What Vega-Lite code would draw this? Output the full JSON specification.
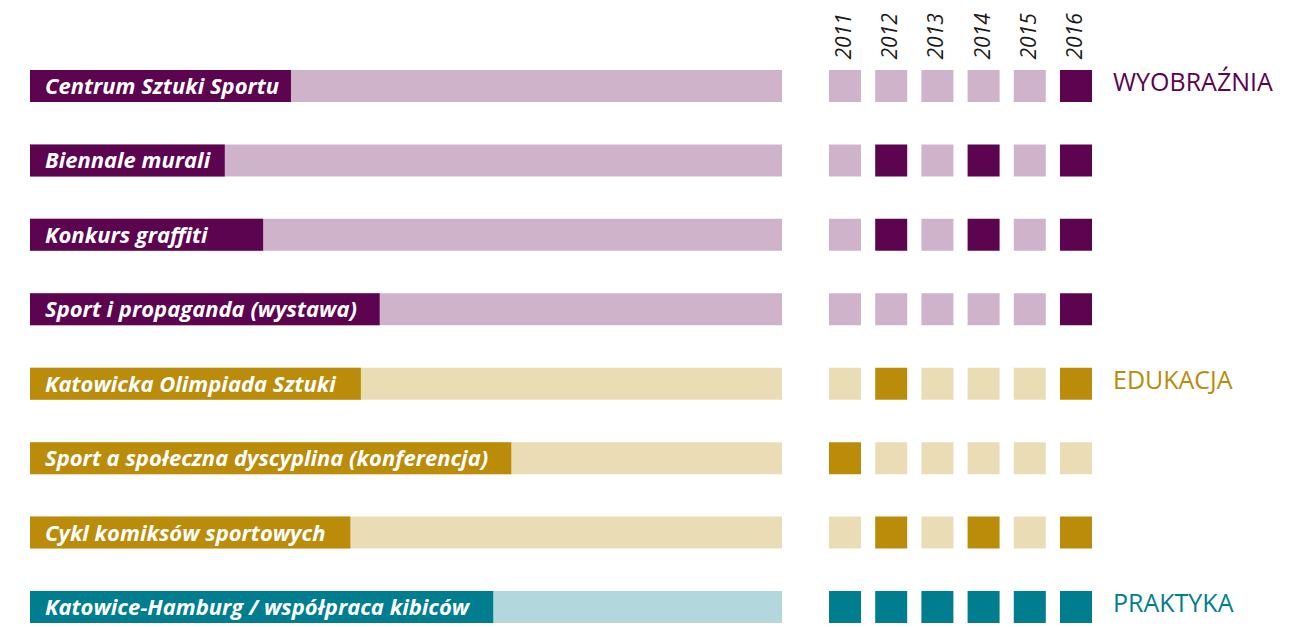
{
  "$schema": "https://vega.github.io/schema/vega-lite/v6.json",
  "background": "white",
  "padding": {"left": 30, "top": 12, "right": 5, "bottom": 0},
  "autosize": {"type": "pad"},
  "config": {"view": {"stroke": null}},
  "datasets": {
    "rows": [
      {"name": "Centrum Sztuki Sportu", "group": "WYOBRAŹNIA", "value": 34.7, "category": "WYOBRAŹNIA"},
      {"name": "Biennale murali", "group": "WYOBRAŹNIA", "value": 25.9, "category": ""},
      {"name": "Konkurs graffiti", "group": "WYOBRAŹNIA", "value": 31.0, "category": ""},
      {"name": "Sport i propaganda (wystawa)", "group": "WYOBRAŹNIA", "value": 46.5, "category": ""},
      {"name": "Katowicka Olimpiada Sztuki", "group": "EDUKACJA", "value": 44.0, "category": "EDUKACJA"},
      {"name": "Sport a społeczna dyscyplina (konferencja)", "group": "EDUKACJA", "value": 64.0, "category": ""},
      {"name": "Cykl komiksów sportowych", "group": "EDUKACJA", "value": 42.6, "category": ""},
      {"name": "Katowice-Hamburg / współpraca kibiców", "group": "PRAKTYKA", "value": 61.6, "category": "PRAKTYKA"}
    ],
    "cells": [
      {"name": "Centrum Sztuki Sportu", "group": "WYOBRAŹNIA", "year": "2011", "active": 0},
      {"name": "Centrum Sztuki Sportu", "group": "WYOBRAŹNIA", "year": "2012", "active": 0},
      {"name": "Centrum Sztuki Sportu", "group": "WYOBRAŹNIA", "year": "2013", "active": 0},
      {"name": "Centrum Sztuki Sportu", "group": "WYOBRAŹNIA", "year": "2014", "active": 0},
      {"name": "Centrum Sztuki Sportu", "group": "WYOBRAŹNIA", "year": "2015", "active": 0},
      {"name": "Centrum Sztuki Sportu", "group": "WYOBRAŹNIA", "year": "2016", "active": 1},
      {"name": "Biennale murali", "group": "WYOBRAŹNIA", "year": "2011", "active": 0},
      {"name": "Biennale murali", "group": "WYOBRAŹNIA", "year": "2012", "active": 1},
      {"name": "Biennale murali", "group": "WYOBRAŹNIA", "year": "2013", "active": 0},
      {"name": "Biennale murali", "group": "WYOBRAŹNIA", "year": "2014", "active": 1},
      {"name": "Biennale murali", "group": "WYOBRAŹNIA", "year": "2015", "active": 0},
      {"name": "Biennale murali", "group": "WYOBRAŹNIA", "year": "2016", "active": 1},
      {"name": "Konkurs graffiti", "group": "WYOBRAŹNIA", "year": "2011", "active": 0},
      {"name": "Konkurs graffiti", "group": "WYOBRAŹNIA", "year": "2012", "active": 1},
      {"name": "Konkurs graffiti", "group": "WYOBRAŹNIA", "year": "2013", "active": 0},
      {"name": "Konkurs graffiti", "group": "WYOBRAŹNIA", "year": "2014", "active": 1},
      {"name": "Konkurs graffiti", "group": "WYOBRAŹNIA", "year": "2015", "active": 0},
      {"name": "Konkurs graffiti", "group": "WYOBRAŹNIA", "year": "2016", "active": 1},
      {"name": "Sport i propaganda (wystawa)", "group": "WYOBRAŹNIA", "year": "2011", "active": 0},
      {"name": "Sport i propaganda (wystawa)", "group": "WYOBRAŹNIA", "year": "2012", "active": 0},
      {"name": "Sport i propaganda (wystawa)", "group": "WYOBRAŹNIA", "year": "2013", "active": 0},
      {"name": "Sport i propaganda (wystawa)", "group": "WYOBRAŹNIA", "year": "2014", "active": 0},
      {"name": "Sport i propaganda (wystawa)", "group": "WYOBRAŹNIA", "year": "2015", "active": 0},
      {"name": "Sport i propaganda (wystawa)", "group": "WYOBRAŹNIA", "year": "2016", "active": 1},
      {"name": "Katowicka Olimpiada Sztuki", "group": "EDUKACJA", "year": "2011", "active": 0},
      {"name": "Katowicka Olimpiada Sztuki", "group": "EDUKACJA", "year": "2012", "active": 1},
      {"name": "Katowicka Olimpiada Sztuki", "group": "EDUKACJA", "year": "2013", "active": 0},
      {"name": "Katowicka Olimpiada Sztuki", "group": "EDUKACJA", "year": "2014", "active": 0},
      {"name": "Katowicka Olimpiada Sztuki", "group": "EDUKACJA", "year": "2015", "active": 0},
      {"name": "Katowicka Olimpiada Sztuki", "group": "EDUKACJA", "year": "2016", "active": 1},
      {"name": "Sport a społeczna dyscyplina (konferencja)", "group": "EDUKACJA", "year": "2011", "active": 1},
      {"name": "Sport a społeczna dyscyplina (konferencja)", "group": "EDUKACJA", "year": "2012", "active": 0},
      {"name": "Sport a społeczna dyscyplina (konferencja)", "group": "EDUKACJA", "year": "2013", "active": 0},
      {"name": "Sport a społeczna dyscyplina (konferencja)", "group": "EDUKACJA", "year": "2014", "active": 0},
      {"name": "Sport a społeczna dyscyplina (konferencja)", "group": "EDUKACJA", "year": "2015", "active": 0},
      {"name": "Sport a społeczna dyscyplina (konferencja)", "group": "EDUKACJA", "year": "2016", "active": 0},
      {"name": "Cykl komiksów sportowych", "group": "EDUKACJA", "year": "2011", "active": 0},
      {"name": "Cykl komiksów sportowych", "group": "EDUKACJA", "year": "2012", "active": 1},
      {"name": "Cykl komiksów sportowych", "group": "EDUKACJA", "year": "2013", "active": 0},
      {"name": "Cykl komiksów sportowych", "group": "EDUKACJA", "year": "2014", "active": 1},
      {"name": "Cykl komiksów sportowych", "group": "EDUKACJA", "year": "2015", "active": 0},
      {"name": "Cykl komiksów sportowych", "group": "EDUKACJA", "year": "2016", "active": 1},
      {"name": "Katowice-Hamburg / współpraca kibiców", "group": "PRAKTYKA", "year": "2011", "active": 1},
      {"name": "Katowice-Hamburg / współpraca kibiców", "group": "PRAKTYKA", "year": "2012", "active": 1},
      {"name": "Katowice-Hamburg / współpraca kibiców", "group": "PRAKTYKA", "year": "2013", "active": 1},
      {"name": "Katowice-Hamburg / współpraca kibiców", "group": "PRAKTYKA", "year": "2014", "active": 1},
      {"name": "Katowice-Hamburg / współpraca kibiców", "group": "PRAKTYKA", "year": "2015", "active": 1},
      {"name": "Katowice-Hamburg / współpraca kibiców", "group": "PRAKTYKA", "year": "2016", "active": 1}
    ]
  },
  "bounds": "flush",
  "spacing": 47,
  "hconcat": [
    {
      "width": 752,
      "height": 553,
      "data": {"name": "rows"},
      "encoding": {
        "y": {"field": "name", "type": "nominal", "sort": null, "scale": {"type": "band", "paddingInner": 0.57, "paddingOuter": 0}, "axis": null},
        "color": {"field": "group", "type": "nominal", "scale": {"domain": ["WYOBRAŹNIA", "EDUKACJA", "PRAKTYKA"], "range": ["#5c044f", "#bb8c0a", "#007e90"]}, "legend": null}
      },
      "layer": [
        {
          "mark": {"type": "bar", "opacity": 0.3},
          "encoding": {
            "x": {"datum": 100, "type": "quantitative", "scale": {"domain": [0, 100], "nice": false}, "axis": null}
          }
        },
        {
          "mark": {"type": "bar"},
          "encoding": {
            "x": {"field": "value", "type": "quantitative"}
          }
        },
        {
          "mark": {"type": "text", "align": "left", "baseline": "middle", "dx": 15, "dy": 1, "font": "Open Sans", "fontStyle": "italic", "fontWeight": "bold", "fontSize": 22},
          "encoding": {
            "x": {"datum": 0, "type": "quantitative"},
            "text": {"field": "name", "type": "nominal"},
            "color": {"value": "white"}
          }
        }
      ]
    },
    {
      "bounds": "flush",
      "spacing": 21,
      "hconcat": [
        {
          "width": 263,
          "height": 553,
          "data": {"name": "cells"},
          "mark": {"type": "rect"},
          "encoding": {
            "x": {"field": "year", "type": "ordinal", "sort": null, "scale": {"paddingInner": 0.307, "paddingOuter": 0},
              "axis": {"orient": "top", "title": null, "labelAngle": -90, "domain": false, "ticks": false, "labelPadding": 11, "labelFont": "Open Sans", "labelFontStyle": "italic", "labelFontSize": 21, "labelColor": "#1a1a1a"}},
            "y": {"field": "name", "type": "nominal", "sort": null, "scale": {"type": "band", "paddingInner": 0.57, "paddingOuter": 0}, "axis": null},
            "color": {"field": "group", "type": "nominal", "scale": {"domain": ["WYOBRAŹNIA", "EDUKACJA", "PRAKTYKA"], "range": ["#5c044f", "#bb8c0a", "#007e90"]}, "legend": null},
            "opacity": {"field": "active", "type": "quantitative", "scale": {"domain": [0, 1], "range": [0.3, 1]}, "legend": null}
          }
        },
        {
          "width": 180,
          "height": 553,
          "data": {"name": "rows"},
          "mark": {"type": "text", "align": "left", "baseline": "middle", "dy": -3, "font": "Open Sans", "fontSize": 25},
          "encoding": {
            "y": {"field": "name", "type": "nominal", "sort": null, "scale": {"type": "band", "paddingInner": 0.57, "paddingOuter": 0}, "axis": null},
            "x": {"value": 0},
            "text": {"field": "category", "type": "nominal"},
            "color": {"field": "group", "type": "nominal", "scale": {"domain": ["WYOBRAŹNIA", "EDUKACJA", "PRAKTYKA"], "range": ["#5c044f", "#bb8c0a", "#007e90"]}, "legend": null}
          }
        }
      ]
    }
  ]
}
